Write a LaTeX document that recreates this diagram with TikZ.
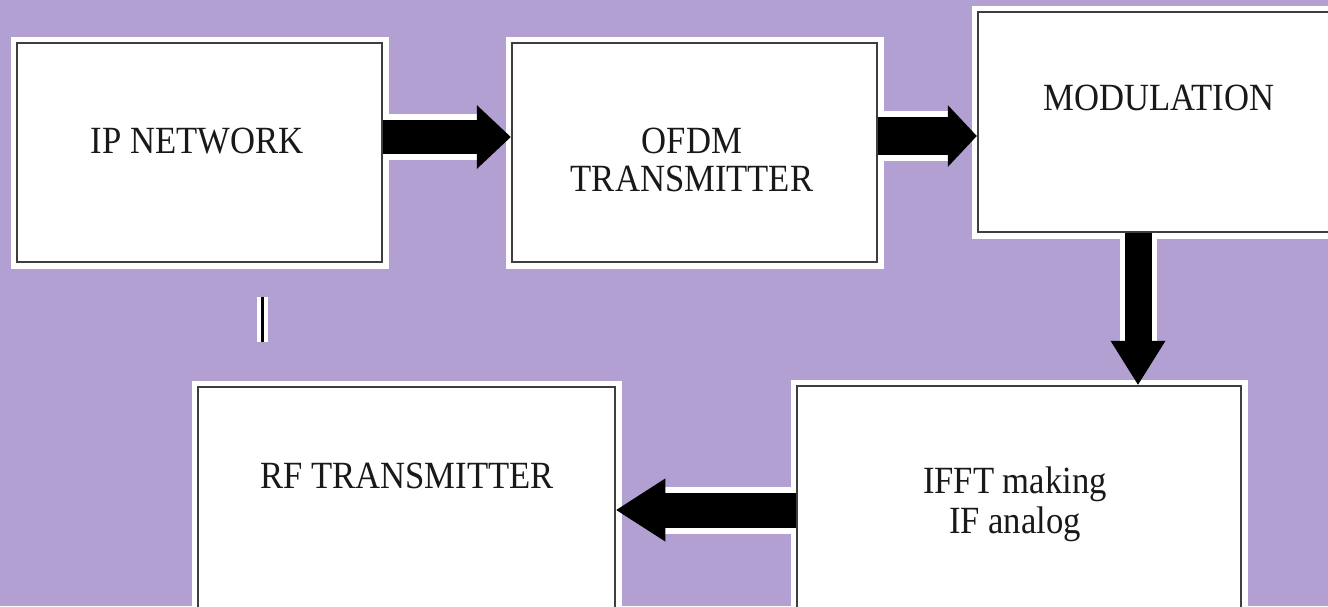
\documentclass[tikz,border=0pt]{standalone}
\usepackage{fontspec}
\setmainfont{Liberation Serif}[FakeStretch=0.9]
\usetikzlibrary{arrows.meta,calc}
\definecolor{lavender}{RGB}{178,160,210}
\definecolor{inkgray}{RGB}{62,62,62}
\definecolor{txtgray}{RGB}{25,25,25}
\begin{document}
\begin{tikzpicture}[x=1pt,y=-1pt,
  block/.style={draw=inkgray, line width=2.5pt, fill=white, inner sep=0pt,
    preaction={draw=white, line width=13pt}},
  boxlabel/.style={font=\fontsize{38.5}{38}\selectfont, text=txtgray, align=center, inner sep=0pt},
  fatarrow/.style n args={4}{draw=black, line width=#1,
    -{Triangle[length=#2, width=#3, line width=0pt]},
    preaction={draw=white, line width=#4, arrows=-, shorten >=#2}},
  tick/.style={draw=black, line width=3pt, preaction={draw=white, line width=11pt}}
]
\clip (0,0) rectangle (1328,606);
\fill[lavender] (0,0) rectangle (1328,606);

% blocks
\node[block, minimum width=365pt, minimum height=219pt] (ip)   at (199.5,152.5) {};
\node[block, minimum width=365pt, minimum height=219pt] (ofdm) at (694.5,152.5) {};
\node[block, minimum width=362pt, minimum height=220pt] (mod)  at (1159,122) {};
\node[block, minimum width=417pt, minimum height=243pt] (rf)   at (406.5,508.5) {};
\node[block, minimum width=444pt, minimum height=244pt] (ifft) at (1019,508) {};

% labels
\node[boxlabel] (iptxt)   at (197,141) {IP NETWORK};
\node[boxlabel] (ofdmtxt) at (692,160) {OFDM\\TRANSMITTER};
\node[boxlabel] (modtxt)  at (1159,98) {MODULATION};
\node[boxlabel] (rftxt)   at (407,476) {RF TRANSMITTER};
\node[boxlabel, font=\fontsize{38.5}{40}\selectfont] (iffttxt) at (1015,504) {IFFT making\\IF analog};

% connectors
\draw[fatarrow={34pt}{34pt}{64pt}{46pt}] (ip.east |- 0,137) -- (ofdm.west |- 0,137);
\draw[fatarrow={38pt}{29pt}{62pt}{50pt}] (ofdm.east |- 0,136) -- (mod.west |- 0,136);
\draw[fatarrow={27pt}{44pt}{55pt}{37pt}] (mod.south -| 1138,0) -- (ifft.north -| 1138,0);
\draw[fatarrow={35pt}{49pt}{63pt}{47pt}] (ifft.west |- 0,510) -- (rf.east |- 0,510);

% short stroke below the first block
\coordinate (tickTop) at (262,297);
\coordinate (tickBot) at (262,342);
\draw[tick] (tickTop) -- (tickBot);
\end{tikzpicture}
\end{document}
